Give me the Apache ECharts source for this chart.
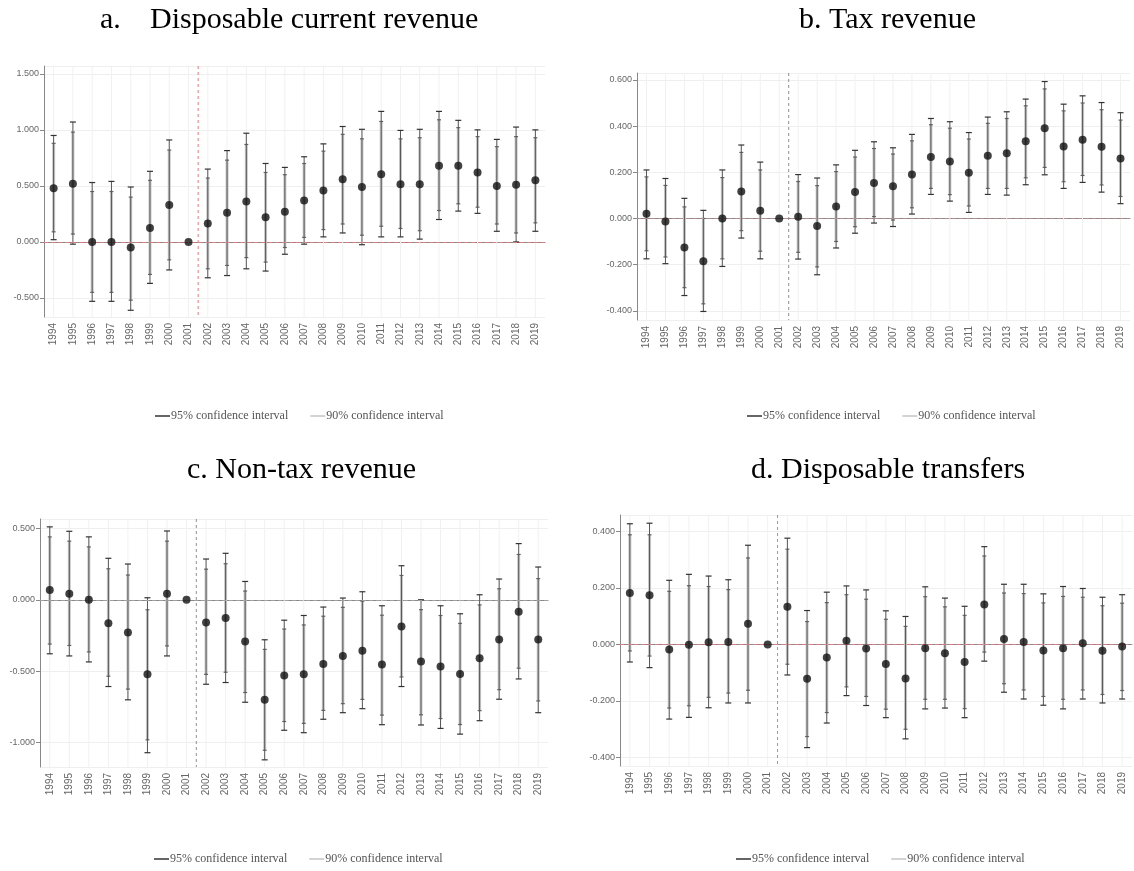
<!DOCTYPE html>
<html>
<head>
<meta charset="utf-8">
<script src="https://cdn.jsdelivr.net/npm/echarts@6/dist/echarts.min.js"></script>
<style>html,body{margin:0;padding:0;background:#fff}#c{width:1134px;height:871px}</style>
</head>
<body>
<div id="c"></div>
<script>
const years = ['1994','1995','1996','1997','1998','1999','2000','2001','2002','2003','2004','2005','2006','2007','2008','2009','2010','2011','2012','2013','2014','2015','2016','2017','2018','2019'];

// a. Disposable current revenue
const aPoint = [0.48,0.52,0.00,0.00,-0.05,0.125,0.33,0.00,0.165,0.26,0.36,0.22,0.27,0.37,0.46,0.56,0.49,0.605,0.515,0.515,0.68,0.68,0.62,0.50,0.51,0.55];
const aLo95  = [0.02,-0.02,-0.53,-0.53,-0.61,-0.37,-0.25,null,-0.32,-0.30,-0.24,-0.26,-0.11,-0.02,0.045,0.08,-0.025,0.045,0.045,0.025,0.20,0.275,0.255,0.095,0.00,0.095];
const aHi95  = [0.95,1.07,0.53,0.54,0.49,0.63,0.91,null,0.65,0.815,0.97,0.70,0.665,0.76,0.875,1.03,1.005,1.165,0.995,1.005,1.165,1.085,1.00,0.915,1.025,1.00];
const aLo90  = [0.09,0.07,-0.45,-0.45,-0.52,-0.29,-0.16,null,-0.24,-0.21,-0.14,-0.18,-0.05,0.04,0.11,0.16,0.06,0.14,0.12,0.10,0.28,0.34,0.31,0.16,0.08,0.17];
const aHi90  = [0.88,0.98,0.45,0.45,0.40,0.55,0.82,null,0.57,0.73,0.87,0.62,0.60,0.70,0.81,0.96,0.92,1.075,0.92,0.93,1.09,1.02,0.94,0.85,0.94,0.93];

// b. Tax revenue
const bPoint = [0.02,-0.013,-0.126,-0.185,0.00,0.117,0.033,0.00,0.007,-0.033,0.052,0.114,0.153,0.139,0.19,0.266,0.247,0.198,0.271,0.282,0.334,0.391,0.312,0.341,0.31,0.26];
const bLo95  = [-0.175,-0.196,-0.334,-0.403,-0.208,-0.085,-0.175,null,-0.176,-0.244,-0.128,-0.064,-0.02,-0.035,0.019,0.104,0.075,0.026,0.104,0.101,0.146,0.189,0.13,0.156,0.114,0.064];
const bHi95  = [0.21,0.173,0.087,0.035,0.21,0.318,0.244,null,0.19,0.175,0.232,0.295,0.332,0.306,0.364,0.433,0.419,0.372,0.439,0.462,0.517,0.593,0.495,0.531,0.502,0.458];
const bLo90  = [-0.14,-0.167,-0.30,-0.37,-0.175,-0.053,-0.142,null,-0.147,-0.21,-0.10,-0.036,0.008,-0.007,0.046,0.13,0.103,0.054,0.13,0.13,0.176,0.221,0.159,0.186,0.145,0.095];
const bHi90  = [0.18,0.143,0.05,0.00,0.177,0.286,0.21,null,0.16,0.142,0.203,0.266,0.303,0.279,0.336,0.406,0.391,0.344,0.412,0.433,0.488,0.561,0.466,0.50,0.471,0.426];

// c. Non-tax revenue
const cPoint = [0.068,0.042,0.00,-0.164,-0.229,-0.521,0.042,0.00,-0.159,-0.128,-0.292,-0.70,-0.53,-0.521,-0.449,-0.393,-0.357,-0.453,-0.187,-0.432,-0.467,-0.519,-0.409,-0.278,-0.084,-0.278];
const cLo95  = [-0.378,-0.393,-0.435,-0.607,-0.70,-1.07,-0.393,null,-0.591,-0.579,-0.717,-1.12,-0.913,-0.93,-0.836,-0.79,-0.762,-0.874,-0.607,-0.876,-0.90,-0.94,-0.846,-0.696,-0.554,-0.79];
const cHi95  = [0.51,0.479,0.44,0.29,0.25,0.014,0.481,null,0.285,0.325,0.128,-0.28,-0.143,-0.11,-0.051,0.012,0.056,-0.042,0.238,0.00,-0.042,-0.098,0.035,0.145,0.393,0.229];
const cLo90  = [-0.31,-0.32,-0.365,-0.535,-0.625,-0.98,-0.323,null,-0.522,-0.507,-0.649,-1.053,-0.852,-0.865,-0.774,-0.727,-0.697,-0.807,-0.54,-0.805,-0.831,-0.873,-0.776,-0.629,-0.479,-0.708];
const cHi90  = [0.44,0.41,0.37,0.217,0.173,-0.07,0.41,null,0.214,0.252,0.061,-0.347,-0.205,-0.176,-0.115,-0.053,-0.01,-0.108,0.17,-0.069,-0.11,-0.165,-0.036,0.077,0.317,0.148];

// d. Disposable transfers
const dPoint = [0.182,0.174,-0.018,-0.001,0.008,0.009,0.073,0.00,0.133,-0.121,-0.046,0.013,-0.014,-0.069,-0.12,-0.013,-0.031,-0.062,0.141,0.019,0.009,-0.021,-0.013,0.004,-0.022,-0.007];
const dLo95  = [-0.062,-0.082,-0.264,-0.258,-0.224,-0.207,-0.207,null,-0.108,-0.365,-0.278,-0.181,-0.216,-0.259,-0.334,-0.228,-0.225,-0.259,-0.059,-0.169,-0.193,-0.215,-0.228,-0.193,-0.207,-0.193];
const dHi95  = [0.427,0.429,0.227,0.248,0.242,0.229,0.351,null,0.376,0.12,0.185,0.207,0.193,0.119,0.099,0.204,0.164,0.135,0.346,0.213,0.213,0.179,0.205,0.198,0.167,0.176];
const dLo90  = [-0.023,-0.041,-0.225,-0.217,-0.187,-0.172,-0.162,null,-0.07,-0.326,-0.241,-0.15,-0.184,-0.229,-0.30,-0.194,-0.194,-0.227,-0.027,-0.139,-0.161,-0.184,-0.194,-0.161,-0.177,-0.163];
const dHi90  = [0.388,0.388,0.188,0.208,0.205,0.194,0.306,null,0.337,0.081,0.148,0.176,0.16,0.089,0.064,0.169,0.133,0.103,0.313,0.182,0.18,0.147,0.17,0.167,0.137,0.146];

const titlesMain = ['Disposable current revenue','b. Tax revenue','c. Non-tax revenue','d. Disposable transfers'];
const legendNames = ['95% confidence interval','90% confidence interval'];

const panels = [
  {pt:aPoint, lo95:aLo95, hi95:aHi95, lo90:aLo90, hi90:aHi90},
  {pt:bPoint, lo95:bLo95, hi95:bHi95, lo90:bLo90, hi90:bHi90},
  {pt:cPoint, lo95:cLo95, hi95:cHi95, lo90:cLo90, hi90:cHi90},
  {pt:dPoint, lo95:dLo95, hi95:dHi95, lo90:dLo90, hi90:dHi90}
];

const grids = [
  {left:44, top:66, width:501, height:251},
  {left:637, top:73, width:493, height:247},
  {left:40, top:519, width:508, height:248},
  {left:620, top:515, width:512, height:251}
];
const yRanges = [[-0.67,1.57],[-0.44,0.63],[-1.17,0.565],[-0.43,0.458]];
const ySteps = [0.5,0.2,0.5,0.2];
const ySplit = [5,5,3,5];
const zeroColors = ['#e07a82','#b58c8c','#a0a0a0','#e07a82'];
const vColors = ['#e07a82','#909090','#909090','#e07a82'];

function ciRender(lineColor, lineW, capW, capColor) {
  return function (params, api) {
    const x = api.value(0);
    const lo = api.value(1), hi = api.value(2);
    if (isNaN(lo) || isNaN(hi)) return null;
    const p1 = api.coord([x, lo]);
    const p2 = api.coord([x, hi]);
    return {
      type: 'group',
      children: [
        {type:'line', shape:{x1:p1[0], y1:p1[1], x2:p2[0], y2:p2[1]}, style:{stroke:lineColor, lineWidth:lineW}},
        {type:'line', shape:{x1:p1[0]-capW/2, y1:p1[1], x2:p1[0]+capW/2, y2:p1[1]}, style:{stroke:capColor, lineWidth:1.2}},
        {type:'line', shape:{x1:p2[0]-capW/2, y1:p2[1], x2:p2[0]+capW/2, y2:p2[1]}, style:{stroke:capColor, lineWidth:1.2}}
      ]
    };
  };
}

const tStyle = {fontFamily:'Liberation Serif', fontSize:30, fontWeight:'normal', color:'#000'};
const titles = [
  {text:'a.', left:95, top:0, textStyle:tStyle},
  {text:titlesMain[0], left:145, top:0, textStyle:tStyle},
  {text:titlesMain[1], left:794, top:0, textStyle:tStyle},
  {text:titlesMain[2], left:182, top:450, textStyle:tStyle},
  {text:titlesMain[3], left:746, top:450, textStyle:tStyle}
];

const legendPos = [[150,405],[742,405],[149,848],[731,848]];
const legends = legendPos.map(p => ({
  left:p[0], top:p[1], itemWidth:15, itemHeight:1.5, itemGap:22, icon:'rect',
  selectedMode:false,
  textStyle:{fontFamily:'Liberation Serif', fontSize:12, color:'#555', padding:[0,0,0,-4]},
  data:[
    {name:legendNames[0], itemStyle:{color:'#333'}},
    {name:legendNames[1], itemStyle:{color:'#c4c4c4'}}
  ]
}));

const xAxes = [], yAxes = [], series = [];
panels.forEach((p, i) => {
  xAxes.push({
    type:'category', gridIndex:i, data:years, boundaryGap:true,
    axisLine:{lineStyle:{color:'#888', width:1}},
    axisTick:{alignWithLabel:true, length:4, lineStyle:{color:'#888'}},
    axisLabel:{rotate:90, fontSize:10, color:'#666', fontFamily:'Liberation Sans', margin:6},
    splitLine:{show:false}
  });
  const step = ySteps[i];
  yAxes.push({
    type:'value', gridIndex:i, min:yRanges[i][0], max:yRanges[i][1], splitNumber:ySplit[i],
    axisLine:{show:true, lineStyle:{color:'#888', width:1}},
    axisTick:{show:true, length:4, lineStyle:{color:'#888'}},
    axisLabel:{fontSize:9, color:'#666', fontFamily:'Liberation Sans', margin:5, showMinLabel:false, showMaxLabel:false,
      formatter:function(v){ const r = v/step; if (Math.abs(r-Math.round(r))>1e-6) return ''; return v.toFixed(3); }},
    splitLine:{show:true, lineStyle:{color:'#efefef', width:1}}
  });
  series.push({
    type:'custom', name:'vgrid'+i, xAxisIndex:i, yAxisIndex:i, silent:true, z:1,
    data: years.map((y,k)=>[k]),
    encode:{x:0},
    renderItem:function(params, api){
      const c = api.coord([api.value(0), 0]);
      const cs = params.coordSys;
      return {type:'line', shape:{x1:c[0], y1:cs.y, x2:c[0], y2:cs.y+cs.height}, style:{stroke:'#f1f1f1', lineWidth:1}};
    }
  });
  series.push({
    type:'custom', name:'vline'+i, xAxisIndex:i, yAxisIndex:i, silent:true, z:2,
    data:[[7]], encode:{x:0},
    renderItem:function(params, api){
      const c1 = api.coord([7, 0]);
      const c2 = api.coord([8, 0]);
      const xm = (c1[0]+c2[0])/2;
      const cs = params.coordSys;
      return {type:'line', shape:{x1:xm, y1:cs.y, x2:xm, y2:cs.y+cs.height}, style:{stroke:vColors[i], lineWidth:1, lineDash:[3,3]}};
    }
  });
  const d90 = [], d95 = [];
  years.forEach((y,k)=>{
    if (p.lo95[k] !== null) {
      d95.push([k, p.lo95[k], p.hi95[k]]);
      d90.push([k, p.lo90[k], p.hi90[k]]);
    }
  });
  series.push({
    type:'custom', name:legendNames[1], xAxisIndex:i, yAxisIndex:i, z:3,
    itemStyle:{color:'#c4c4c4'},
    data:d90, encode:{x:0, y:[1,2]},
    renderItem:ciRender('#c8c8c8', 3, 4, '#666')
  });
  series.push({
    type:'custom', name:legendNames[0], xAxisIndex:i, yAxisIndex:i, z:4,
    itemStyle:{color:'#333'},
    data:d95, encode:{x:0, y:[1,2]},
    renderItem:ciRender('#555', 1, 6, '#333')
  });
  series.push({
    type:'scatter', name:'pt'+i, xAxisIndex:i, yAxisIndex:i, z:5,
    symbolSize:8, itemStyle:{color:'#111'},
    data: years.map((y,k)=>[k, p.pt[k]]),
    markLine:{silent:true, symbol:'none', label:{show:false},
      lineStyle:{color:zeroColors[i], type:[4,3], width:1},
      data:[{yAxis:0}]}
  });
});

const chart = echarts.init(document.getElementById('c'), null, {renderer:'canvas'});
chart.setOption({
  backgroundColor:'#fff',
  animation:false,
  title:titles,
  legend:legends,
  grid:grids.map(g=>Object.assign({containLabel:false}, g)),
  xAxis:xAxes,
  yAxis:yAxes,
  series:series
});
</script>
</body>
</html>
